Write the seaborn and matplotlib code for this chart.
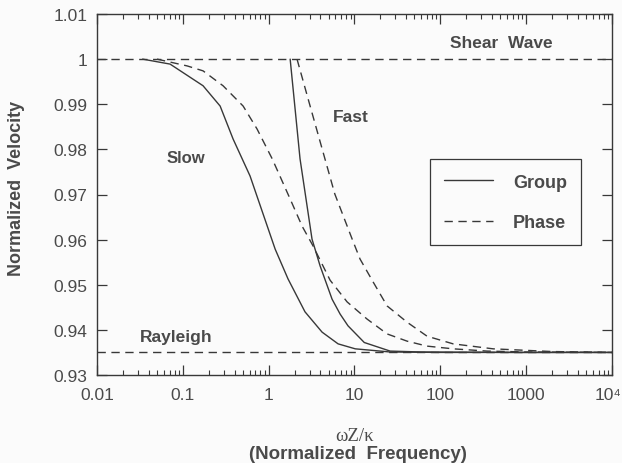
import numpy as np
import pandas as pd
import matplotlib
matplotlib.use("Agg")
import matplotlib.pyplot as plt
from matplotlib.lines import Line2D
from matplotlib.ticker import FixedLocator, FixedFormatter, LogLocator, NullFormatter
import matplotlib.transforms as mtransforms
import seaborn as sns

# ---- data ----
slow_group_f = [0.034, 0.071, 0.172, 0.272, 0.385, 0.607, 1.19, 1.68, 2.65, 4.19, 6.44, 10.2, 26, 100, 1000, 10000]
slow_group_v = [1.0, 0.9989, 0.9941, 0.9896, 0.9823, 0.9741, 0.9579, 0.9513, 0.9440, 0.9395, 0.9369, 0.9358, 0.9351, 0.935, 0.935, 0.935]

slow_phase_f = [0.05, 0.112, 0.172, 0.294, 0.504, 0.733, 1.10, 1.78, 2.45, 3.29, 5.2, 8.2, 14, 24, 41, 70, 141, 351, 1000, 10000]
slow_phase_v = [1.0, 0.9985, 0.9974, 0.9941, 0.9896, 0.9845, 0.9779, 0.9690, 0.9630, 0.9586, 0.9510, 0.9462, 0.9424, 0.9391, 0.9375, 0.9364, 0.9358, 0.9353, 0.9351, 0.935]

fast_group_f = [1.78, 2.32, 3.2, 3.47, 3.97, 5.48, 6.8, 8.4, 13.0, 26, 60, 1000, 10000]
fast_group_v = [1.0, 0.9779, 0.9601, 0.9579, 0.9542, 0.9468, 0.9435, 0.9409, 0.9372, 0.9353, 0.9351, 0.935, 0.935]

fast_phase_f = [2.14, 3.04, 4.3, 5.9, 9.4, 11.6, 16.5, 24, 41, 70, 141, 412, 2000, 10000]
fast_phase_v = [1.0, 0.9896, 0.9794, 0.9701, 0.9601, 0.9557, 0.9506, 0.9453, 0.9417, 0.9386, 0.9369, 0.9358, 0.9352, 0.935]

freq_range = [0.01, 10000]
shear_v = [1.0, 1.0]
rayleigh_v = [0.935, 0.935]

x_ticks = [0.01, 0.1, 1, 10, 100, 1000, 10000]
x_ticklabels = ["0.01", "0.1", "1", "10", "100", "1000", "10⁴"]
y_ticks = [0.93, 0.94, 0.95, 0.96, 0.97, 0.98, 0.99, 1.0, 1.01]
y_ticklabels = ["0.93", "0.94", "0.95", "0.96", "0.97", "0.98", "0.99", "1", "1.01"]

# ---- style ----
sns.set_style("ticks")
plt.rcParams["font.family"] = ["Liberation Sans", "DejaVu Sans"]
ink = "#383838"
txt = "#4a4a4a"
bg = "#fbfbfb"

W, H = 622, 464
fig = plt.figure(figsize=(6.22, 4.64), dpi=100, facecolor=bg)
ax = fig.add_axes([97 / W, 1 - 376 / H, 515 / W, 361 / H])
ax.set_facecolor(bg)

dash = (6, 4)

def draw(f, v, style):
    df = pd.DataFrame({"f": f, "v": v})
    sns.lineplot(data=df, x="f", y="v", ax=ax, color=ink, linewidth=1.0,
                 estimator=None, sort=False)
    line = ax.get_lines()[-1]
    if style == "dash":
        line.set_dashes(dash)

draw(freq_range, shear_v, "dash")
draw(freq_range, rayleigh_v, "dash")
draw(slow_group_f, slow_group_v, "solid")
draw(slow_phase_f, slow_phase_v, "dash")
draw(fast_group_f, fast_group_v, "solid")
draw(fast_phase_f, fast_phase_v, "dash")

ax.set_xscale("log")
ax.set_xlim(0.01, 10000)
ax.set_ylim(0.93, 1.01)

ax.xaxis.set_major_locator(FixedLocator(x_ticks))
ax.xaxis.set_major_formatter(FixedFormatter(x_ticklabels))
ax.xaxis.set_minor_locator(LogLocator(base=10, subs=np.arange(2, 10), numticks=20))
ax.xaxis.set_minor_formatter(NullFormatter())
ax.yaxis.set_major_locator(FixedLocator(y_ticks))
ax.yaxis.set_major_formatter(FixedFormatter(y_ticklabels))

ax.tick_params(axis="both", which="major", direction="in", length=7, width=0.9,
               top=True, right=True, colors=ink, labelcolor=txt, labelsize=12.5)
ax.tick_params(axis="y", which="major", pad=7)
ax.tick_params(axis="x", which="major", pad=9)
ax.tick_params(axis="x", which="minor", direction="in", length=3.5, width=0.8,
               top=True, colors=ink)
for s in ax.spines.values():
    s.set_color(ink)
    s.set_linewidth(1.0)

# keep the last x tick label inside the canvas
fig.canvas.draw()
last = ax.get_xticklabels()[-1]
last.set_transform(last.get_transform() + mtransforms.ScaledTranslation(-4 / 100, 0, fig.dpi_scale_trans))

ax.set_xlabel("")
ax.set_ylabel("")

fig.text(17 / W, 1 - 188 / H, "Normalized  Velocity", rotation=90, ha="center", va="center",
         fontsize=13, fontweight="bold", color=txt)
fig.text(355 / W, 1 - 437 / H, "ωZ/κ", ha="center", va="center",
         fontsize=13.5, family=["Liberation Serif", "DejaVu Serif"], color=txt)
fig.text(358 / W, 1 - 455 / H, "(Normalized  Frequency)", ha="center", va="center",
         fontsize=13.5, fontweight="bold", color=txt)

def atext(px, py, s, size=12.5):
    fig.text(px / W, 1 - py / H, s, ha="center", va="center",
             fontsize=size, fontweight="bold", color=txt)

atext(501, 43, "Shear  Wave")
atext(351, 117, "Fast")
atext(186, 159, "Slow", 12)
atext(176, 338, "Rayleigh")

handles = [Line2D([], [], color=ink, lw=1.0, label="Group"),
           Line2D([], [], color=ink, lw=1.0, dashes=dash, label="Phase")]
leg = ax.legend(handles=handles, loc="upper left", bbox_to_anchor=(0.6466, 0.598),
                frameon=True, fancybox=False, edgecolor=ink, facecolor=bg,
                framealpha=1, fontsize=13, handlelength=2.7, handletextpad=1.1,
                labelspacing=1.3, borderpad=0.8, borderaxespad=0)
for t in leg.get_texts():
    t.set_fontweight("bold")
    t.set_color(txt)
leg.get_frame().set_linewidth(0.9)

fig.savefig("out.png", dpi=100, facecolor=fig.get_facecolor())
